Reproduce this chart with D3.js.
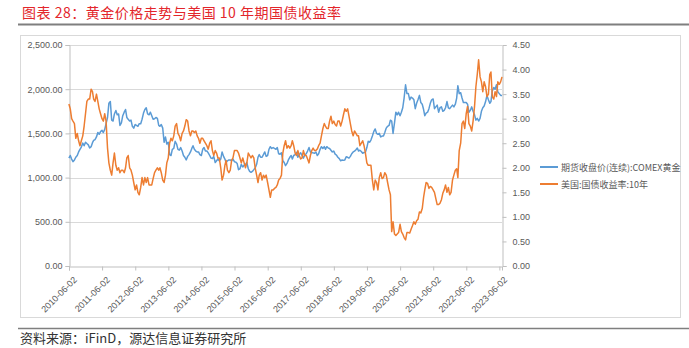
<!DOCTYPE html>
<html><head><meta charset="utf-8">
<script src="https://cdn.jsdelivr.net/npm/d3@7/dist/d3.min.js"></script>
<style>
body{margin:0;background:#fff;}
svg{display:block;font-family:"Noto Sans CJK SC","Noto Sans",sans-serif;}
</style></head>
<body><svg id="c" width="689" height="348"></svg>
<script>
// ---- data (semi-monthly readings, 1st and 16th of each month) ----
const startDate = "2010-06-01";
const gold = [
1220,1250,1210,1180,1200,1230,1250,1290,1320,1345,1390,1360,1400,1385,
1370,1335,1350,1395,1420,1430,1460,1510,1490,1520,1535,1510,1545,1610,1680,1840,1860,1650,1640,1720,1760,1710,1720,1590,
1620,1700,1740,1770,1680,1660,1640,1650,1580,1560,1600,1590,1580,1610,1610,1660,1730,1770,1790,1720,1710,1740,1700,1660,
1665,1680,1670,1590,1580,1600,1560,1400,1460,1380,1400,1260,1250,1320,1330,1410,1380,1320,1310,1340,1300,1250,1230,1200,
1240,1260,1290,1330,1360,1320,1300,1290,1290,1260,1250,1320,1340,1300,1300,1280,1250,1220,1215,1240,1170,1190,1210,1190,
1210,1290,1240,1210,1170,1190,1200,1200,1190,1210,1180,1175,1160,1090,1100,1150,1120,1140,1150,1170,1100,1070,1060,1070,
1090,1110,1150,1230,1260,1230,1230,1260,1290,1240,1250,1320,1350,1330,1340,1330,1320,1340,1270,1265,1280,1190,1170,1135,
1160,1200,1230,1250,1210,1250,1260,1285,1230,1260,1280,1250,1220,1255,1270,1300,1340,1290,1280,1280,1275,1290,1250,1270,
1320,1350,1330,1350,1320,1350,1335,1330,1310,1290,1300,1265,1255,1230,1215,1190,1200,1195,1200,1235,1230,1220,1240,1270,
1290,1300,1315,1335,1300,1310,1295,1275,1285,1285,1340,1410,1400,1425,1470,1520,1550,1500,1490,1500,1460,1470,1470,1510,
1560,1580,1590,1650,1640,1500,1620,1740,1710,1740,1700,1740,1790,1900,2050,1950,1950,1880,1910,1900,1880,1780,1840,1880,
1930,1850,1830,1770,1700,1730,1740,1780,1840,1880,1890,1780,1800,1820,1740,1790,1800,1750,1760,1790,1860,1790,1780,1800,
1820,1800,1830,1900,2040,1950,1960,1900,1850,1850,1850,1830,1740,1760,1800,1750,1710,1650,1670,1640,1670,1750,1790,1810,
1860,1930,1880,1840,1860,1980,2020,2000,2050,1970,1950,1930,1930
];
const yield10 = [
3.30,3.20,3.00,2.95,2.90,2.60,2.70,2.55,2.45,2.55,2.65,2.85,3.10,3.35,
3.40,3.40,3.60,3.55,3.40,3.35,3.50,3.35,3.20,3.10,3.00,2.95,3.10,2.95,2.40,2.10,1.95,1.85,2.10,2.30,2.05,1.95,2.00,1.90,
1.95,1.95,1.90,2.00,2.20,2.25,2.00,1.95,1.85,1.70,1.55,1.65,1.50,1.45,1.60,1.80,1.65,1.80,1.70,1.80,1.65,1.65,1.65,1.78,
1.90,1.95,2.00,1.95,2.00,1.90,1.75,1.70,1.85,2.10,2.20,2.50,2.60,2.55,2.65,2.85,2.90,2.70,2.65,2.55,2.70,2.75,2.85,2.98,
2.95,2.75,2.65,2.75,2.75,2.72,2.75,2.65,2.60,2.50,2.60,2.60,2.55,2.50,2.45,2.38,2.50,2.55,2.35,2.25,2.35,2.30,2.20,2.20,
2.00,1.75,1.85,2.05,2.15,1.95,1.90,1.95,2.15,2.20,2.35,2.35,2.35,2.30,2.20,2.10,2.20,2.10,2.00,2.10,2.30,2.25,2.20,2.25,
2.20,2.00,1.85,1.70,1.85,1.90,1.75,1.85,1.80,1.85,1.70,1.55,1.40,1.55,1.55,1.58,1.60,1.65,1.75,1.78,1.85,2.30,2.45,2.55,
2.40,2.45,2.40,2.45,2.55,2.45,2.30,2.25,2.35,2.25,2.18,2.20,2.35,2.25,2.25,2.18,2.10,2.25,2.35,2.40,2.35,2.35,2.38,2.45,
2.50,2.65,2.80,2.90,2.85,2.80,2.80,2.95,3.05,2.90,2.95,2.88,2.85,2.95,2.95,2.85,2.95,3.08,3.20,3.15,3.20,3.05,2.90,2.75,
2.65,2.75,2.70,2.65,2.65,2.45,2.50,2.55,2.45,2.30,2.10,2.05,2.05,2.05,1.75,1.55,1.75,1.70,1.55,1.80,1.90,1.78,1.80,1.90,
1.85,1.70,1.55,1.45,0.70,0.90,0.65,0.62,0.65,0.68,0.85,0.70,0.65,0.58,0.53,0.68,0.68,0.67,0.75,0.82,0.90,0.85,0.92,0.95,
1.10,1.08,1.17,1.40,1.55,1.70,1.68,1.58,1.62,1.60,1.55,1.50,1.37,1.25,1.25,1.28,1.35,1.48,1.55,1.65,1.50,1.60,1.45,1.50,
1.75,1.85,1.95,1.98,1.80,2.35,2.50,2.90,2.95,2.80,3.10,3.25,2.90,2.85,2.75,2.95,3.25,3.65,3.90,4.20,3.85,3.75,3.55,3.75,
3.65,3.45,3.50,3.90,3.95,3.45,3.40,3.55,3.45,3.75,3.70,3.75,3.85
];
const leftTicks = [0,500,1000,1500,2000,2500];
const rightTicks = [0,0.5,1,1.5,2,2.5,3,3.5,4,4.5];
const xTickLabels = ["2010-06-02","2011-06-02","2012-06-02","2013-06-02","2014-06-02","2015-06-02","2016-06-02","2017-06-02","2018-06-02","2019-06-02","2020-06-02","2021-06-02","2022-06-02","2023-06-02"];
const seriesNames = ["期货收盘价(连续):COMEX黄金","美国:国债收益率:10年"];
const titleText = "图表 28：黄金价格走势与美国 10 年期国债收益率";
const sourceText = "资料来源：iFinD，源达信息证券研究所";

// ---- build ----
const parse = d3.utcParse("%Y-%m-%d");
const s0 = parse(startDate);
const dates = gold.map((_, i) => {
  const m = d3.utcMonth.offset(s0, Math.floor(i / 2));
  return i % 2 === 0 ? m : d3.utcDay.offset(m, 15);
});
const svg = d3.select("#c");
const L = 69, R = 502, T = 45, B = 266;
const x = d3.scaleUtc().domain([parse("2010-06-02"), parse("2023-07-01")]).range([L, R]);
const yL = d3.scaleLinear().domain([0, 2500]).range([B, T]);
const yR = d3.scaleLinear().domain([0, 4.5]).range([B, T]);
const axisCol = "#bfbfbf", txtCol = "#595959";

// title
svg.append("text").attr("x", 22).attr("y", 18).attr("fill", "#e3262b")
  .attr("font-size", 14).attr("letter-spacing", 0.5).text(titleText);
svg.append("line").attr("x1", 18).attr("x2", 689).attr("y1", 24.5).attr("y2", 24.5)
  .attr("stroke", "#7f7f7f").attr("stroke-width", 2);
// chart frame
svg.append("rect").attr("x", 20.5).attr("y", 35.5).attr("width", 660).attr("height", 282)
  .attr("fill", "none").attr("stroke", "#d9d9d9");

// gridlines
svg.append("g").selectAll("line").data(leftTicks.filter(d => d > 0)).join("line")
  .attr("x1", L).attr("x2", R).attr("y1", d => Math.round(yL(d)) + 0.5).attr("y2", d => Math.round(yL(d)) + 0.5)
  .attr("stroke", "#d9d9d9");

// left axis
const gl = svg.append("g").attr("transform", `translate(${L + 0.5},0)`)
  .call(d3.axisLeft(yL).tickValues(leftTicks).tickSize(4).tickPadding(3).tickFormat(d3.format(",.2f")));
// right axis
const gr = svg.append("g").attr("transform", `translate(${R + 0.5},0)`)
  .call(d3.axisRight(yR).tickValues(rightTicks).tickSize(4).tickPadding(6).tickFormat(d3.format(".2f")));
// bottom axis
const xTicks = xTickLabels.map(parse);
const gb = svg.append("g").attr("transform", `translate(0,${B + 0.5})`)
  .call(d3.axisBottom(x).tickValues(xTicks).tickSize(4).tickFormat(d3.utcFormat("%Y-%m-%d")));
gb.selectAll("text").attr("text-anchor", "end").attr("dx", "0").attr("dy", "0")
  .attr("transform", "translate(3,9) rotate(-45)");
[gl, gr, gb].forEach(g => {
  g.select(".domain").attr("stroke", axisCol);
  g.selectAll(".tick line").attr("stroke", axisCol);
  g.selectAll("text").attr("fill", txtCol).attr("font-size", 9)
    .attr("font-family", "'Liberation Sans', Arial, sans-serif");
});

// lines
const lineG = d3.line().x((d, i) => x(dates[i])).y(d => yL(d));
const lineY = d3.line().x((d, i) => x(dates[i])).y(d => yR(d));
svg.append("path").datum(gold).attr("d", lineG).attr("fill", "none")
  .attr("stroke", "#5b9bd5").attr("stroke-width", 1.5).attr("stroke-linejoin", "round");
svg.append("path").datum(yield10).attr("d", lineY).attr("fill", "none")
  .attr("stroke", "#ed7d31").attr("stroke-width", 1.5).attr("stroke-linejoin", "round");

// legend
const colors = ["#5b9bd5", "#ed7d31"];
const lg = svg.append("g").selectAll("g").data(seriesNames).join("g")
  .attr("transform", (d, i) => `translate(540,${167 + i * 17})`);
lg.append("line").attr("x1", 0).attr("x2", 18).attr("stroke", (d, i) => colors[i]).attr("stroke-width", 2);
lg.append("text").attr("x", 21).attr("y", 3.5).attr("font-size", 9).attr("fill", txtCol).text(d => d);

// footer
svg.append("line").attr("x1", 18).attr("x2", 689).attr("y1", 328.5).attr("y2", 328.5)
  .attr("stroke", "#7f7f7f").attr("stroke-width", 1.5);
svg.append("text").attr("x", 20).attr("y", 343).attr("font-size", 13).attr("fill", "#333")
  .text(sourceText);
</script></body></html>
